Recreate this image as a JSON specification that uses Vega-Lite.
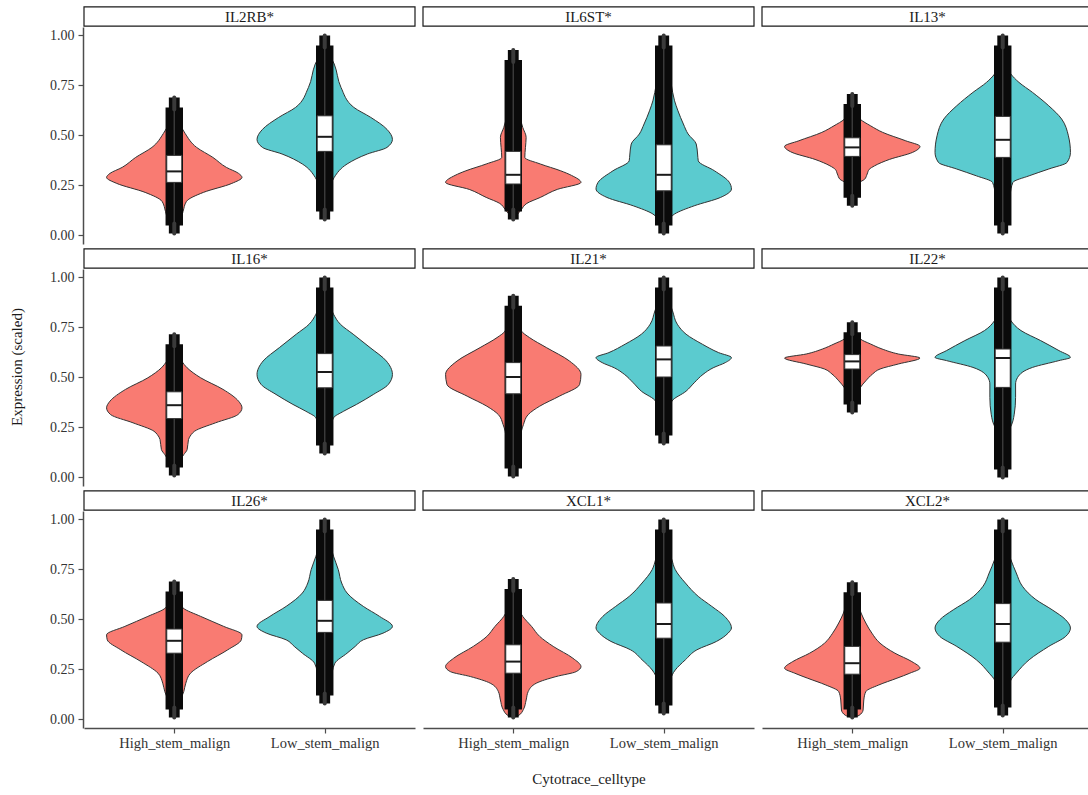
{
"$schema":"https://vega.github.io/schema/vega-lite/v6.json",
"background":"white",
"padding":{"left":9,"top":6,"right":0,"bottom":4},
"data":{"values":[
{"k":"s","g":"IL2RB*"},{"k":"s","g":"IL6ST*"},{"k":"s","g":"IL13*"},{"k":"s","g":"IL16*"},{"k":"s","g":"IL21*"},{"k":"s","g":"IL22*"},{"k":"s","g":"IL26*"},{"k":"s","g":"XCL1*"},{"k":"s","g":"XCL2*"},
{"k":"b","g":"IL2RB*","c":"High_stem_malign","lo":0.01,"q1":0.265,"md":0.32,"q3":0.40,"hi":0.69},
{"k":"b","g":"IL2RB*","c":"Low_stem_malign","lo":0.08,"q1":0.42,"md":0.493,"q3":0.598,"hi":1.0},
{"k":"b","g":"IL6ST*","c":"High_stem_malign","lo":0.08,"q1":0.257,"md":0.303,"q3":0.42,"hi":0.927},
{"k":"b","g":"IL6ST*","c":"Low_stem_malign","lo":0.01,"q1":0.223,"md":0.303,"q3":0.453,"hi":1.0},
{"k":"b","g":"IL13*","c":"High_stem_malign","lo":0.148,"q1":0.395,"md":0.44,"q3":0.488,"hi":0.707},
{"k":"b","g":"IL13*","c":"Low_stem_malign","lo":0.01,"q1":0.39,"md":0.478,"q3":0.595,"hi":1.0},
{"k":"b","g":"IL16*","c":"High_stem_malign","lo":0.01,"q1":0.294,"md":0.361,"q3":0.428,"hi":0.716},
{"k":"b","g":"IL16*","c":"Low_stem_malign","lo":0.12,"q1":0.448,"md":0.527,"q3":0.619,"hi":1.0},
{"k":"b","g":"IL21*","c":"High_stem_malign","lo":0.005,"q1":0.418,"md":0.502,"q3":0.574,"hi":0.908},
{"k":"b","g":"IL21*","c":"Low_stem_malign","lo":0.17,"q1":0.502,"md":0.59,"q3":0.657,"hi":1.0},
{"k":"b","g":"IL22*","c":"High_stem_malign","lo":0.324,"q1":0.542,"md":0.58,"q3":0.614,"hi":0.776},
{"k":"b","g":"IL22*","c":"Low_stem_malign","lo":0.0,"q1":0.45,"md":0.597,"q3":0.642,"hi":1.0},
{"k":"b","g":"IL26*","c":"High_stem_malign","lo":0.01,"q1":0.331,"md":0.393,"q3":0.452,"hi":0.69},
{"k":"b","g":"IL26*","c":"Low_stem_malign","lo":0.08,"q1":0.435,"md":0.493,"q3":0.595,"hi":1.0},
{"k":"b","g":"XCL1*","c":"High_stem_malign","lo":0.01,"q1":0.231,"md":0.289,"q3":0.373,"hi":0.702},
{"k":"b","g":"XCL1*","c":"Low_stem_malign","lo":0.03,"q1":0.406,"md":0.477,"q3":0.582,"hi":1.0},
{"k":"b","g":"XCL2*","c":"High_stem_malign","lo":0.01,"q1":0.226,"md":0.281,"q3":0.365,"hi":0.686},
{"k":"b","g":"XCL2*","c":"Low_stem_malign","lo":0.02,"q1":0.386,"md":0.477,"q3":0.579,"hi":1.0},
{"k":"v","g":"IL2RB*","c":"High_stem_malign","y":0.01,"w":0},{"k":"v","g":"IL2RB*","c":"High_stem_malign","y":0.06,"w":0.08},{"k":"v","g":"IL2RB*","c":"High_stem_malign","y":0.12,"w":0.13},{"k":"v","g":"IL2RB*","c":"High_stem_malign","y":0.17,"w":0.18},{"k":"v","g":"IL2RB*","c":"High_stem_malign","y":0.215,"w":0.43},{"k":"v","g":"IL2RB*","c":"High_stem_malign","y":0.26,"w":0.85},{"k":"v","g":"IL2RB*","c":"High_stem_malign","y":0.29,"w":1.0},{"k":"v","g":"IL2RB*","c":"High_stem_malign","y":0.31,"w":0.95},{"k":"v","g":"IL2RB*","c":"High_stem_malign","y":0.34,"w":0.77},{"k":"v","g":"IL2RB*","c":"High_stem_malign","y":0.39,"w":0.57},{"k":"v","g":"IL2RB*","c":"High_stem_malign","y":0.44,"w":0.33},{"k":"v","g":"IL2RB*","c":"High_stem_malign","y":0.51,"w":0.16},{"k":"v","g":"IL2RB*","c":"High_stem_malign","y":0.56,"w":0.08},{"k":"v","g":"IL2RB*","c":"High_stem_malign","y":0.62,"w":0.04},{"k":"v","g":"IL2RB*","c":"High_stem_malign","y":0.69,"w":0},
{"k":"v","g":"IL2RB*","c":"Low_stem_malign","y":0.08,"w":0},{"k":"v","g":"IL2RB*","c":"Low_stem_malign","y":0.15,"w":0.04},{"k":"v","g":"IL2RB*","c":"Low_stem_malign","y":0.22,"w":0.07},{"k":"v","g":"IL2RB*","c":"Low_stem_malign","y":0.29,"w":0.14},{"k":"v","g":"IL2RB*","c":"Low_stem_malign","y":0.357,"w":0.33},{"k":"v","g":"IL2RB*","c":"Low_stem_malign","y":0.407,"w":0.63},{"k":"v","g":"IL2RB*","c":"Low_stem_malign","y":0.44,"w":0.92},{"k":"v","g":"IL2RB*","c":"Low_stem_malign","y":0.48,"w":1.0},{"k":"v","g":"IL2RB*","c":"Low_stem_malign","y":0.53,"w":0.92},{"k":"v","g":"IL2RB*","c":"Low_stem_malign","y":0.59,"w":0.68},{"k":"v","g":"IL2RB*","c":"Low_stem_malign","y":0.64,"w":0.43},{"k":"v","g":"IL2RB*","c":"Low_stem_malign","y":0.74,"w":0.24},{"k":"v","g":"IL2RB*","c":"Low_stem_malign","y":0.857,"w":0.14},{"k":"v","g":"IL2RB*","c":"Low_stem_malign","y":0.9,"w":0.08},{"k":"v","g":"IL2RB*","c":"Low_stem_malign","y":0.95,"w":0.04},{"k":"v","g":"IL2RB*","c":"Low_stem_malign","y":1.0,"w":0},
{"k":"v","g":"IL6ST*","c":"High_stem_malign","y":0.08,"w":0},{"k":"v","g":"IL6ST*","c":"High_stem_malign","y":0.1,"w":0.05},{"k":"v","g":"IL6ST*","c":"High_stem_malign","y":0.13,"w":0.12},{"k":"v","g":"IL6ST*","c":"High_stem_malign","y":0.16,"w":0.2},{"k":"v","g":"IL6ST*","c":"High_stem_malign","y":0.19,"w":0.4},{"k":"v","g":"IL6ST*","c":"High_stem_malign","y":0.23,"w":0.65},{"k":"v","g":"IL6ST*","c":"High_stem_malign","y":0.265,"w":1.0},{"k":"v","g":"IL6ST*","c":"High_stem_malign","y":0.3,"w":0.86},{"k":"v","g":"IL6ST*","c":"High_stem_malign","y":0.323,"w":0.7},{"k":"v","g":"IL6ST*","c":"High_stem_malign","y":0.357,"w":0.4},{"k":"v","g":"IL6ST*","c":"High_stem_malign","y":0.39,"w":0.17},{"k":"v","g":"IL6ST*","c":"High_stem_malign","y":0.44,"w":0.18},{"k":"v","g":"IL6ST*","c":"High_stem_malign","y":0.49,"w":0.19},{"k":"v","g":"IL6ST*","c":"High_stem_malign","y":0.54,"w":0.14},{"k":"v","g":"IL6ST*","c":"High_stem_malign","y":0.59,"w":0.1},{"k":"v","g":"IL6ST*","c":"High_stem_malign","y":0.7,"w":0.06},{"k":"v","g":"IL6ST*","c":"High_stem_malign","y":0.8,"w":0.04},{"k":"v","g":"IL6ST*","c":"High_stem_malign","y":0.93,"w":0},
{"k":"v","g":"IL6ST*","c":"Low_stem_malign","y":0.01,"w":0},{"k":"v","g":"IL6ST*","c":"Low_stem_malign","y":0.023,"w":0.02},{"k":"v","g":"IL6ST*","c":"Low_stem_malign","y":0.073,"w":0.07},{"k":"v","g":"IL6ST*","c":"Low_stem_malign","y":0.107,"w":0.16},{"k":"v","g":"IL6ST*","c":"Low_stem_malign","y":0.148,"w":0.45},{"k":"v","g":"IL6ST*","c":"Low_stem_malign","y":0.19,"w":0.84},{"k":"v","g":"IL6ST*","c":"Low_stem_malign","y":0.232,"w":1.0},{"k":"v","g":"IL6ST*","c":"Low_stem_malign","y":0.265,"w":0.97},{"k":"v","g":"IL6ST*","c":"Low_stem_malign","y":0.323,"w":0.75},{"k":"v","g":"IL6ST*","c":"Low_stem_malign","y":0.373,"w":0.51},{"k":"v","g":"IL6ST*","c":"Low_stem_malign","y":0.407,"w":0.5},{"k":"v","g":"IL6ST*","c":"Low_stem_malign","y":0.457,"w":0.48},{"k":"v","g":"IL6ST*","c":"Low_stem_malign","y":0.507,"w":0.36},{"k":"v","g":"IL6ST*","c":"Low_stem_malign","y":0.557,"w":0.29},{"k":"v","g":"IL6ST*","c":"Low_stem_malign","y":0.623,"w":0.21},{"k":"v","g":"IL6ST*","c":"Low_stem_malign","y":0.673,"w":0.16},{"k":"v","g":"IL6ST*","c":"Low_stem_malign","y":0.757,"w":0.11},{"k":"v","g":"IL6ST*","c":"Low_stem_malign","y":0.85,"w":0.06},{"k":"v","g":"IL6ST*","c":"Low_stem_malign","y":0.95,"w":0.03},{"k":"v","g":"IL6ST*","c":"Low_stem_malign","y":1.0,"w":0},
{"k":"v","g":"IL13*","c":"High_stem_malign","y":0.15,"w":0},{"k":"v","g":"IL13*","c":"High_stem_malign","y":0.2,"w":0.05},{"k":"v","g":"IL13*","c":"High_stem_malign","y":0.265,"w":0.11},{"k":"v","g":"IL13*","c":"High_stem_malign","y":0.28,"w":0.18},{"k":"v","g":"IL13*","c":"High_stem_malign","y":0.307,"w":0.22},{"k":"v","g":"IL13*","c":"High_stem_malign","y":0.33,"w":0.25},{"k":"v","g":"IL13*","c":"High_stem_malign","y":0.348,"w":0.33},{"k":"v","g":"IL13*","c":"High_stem_malign","y":0.38,"w":0.55},{"k":"v","g":"IL13*","c":"High_stem_malign","y":0.415,"w":0.89},{"k":"v","g":"IL13*","c":"High_stem_malign","y":0.445,"w":1.0},{"k":"v","g":"IL13*","c":"High_stem_malign","y":0.473,"w":0.79},{"k":"v","g":"IL13*","c":"High_stem_malign","y":0.515,"w":0.45},{"k":"v","g":"IL13*","c":"High_stem_malign","y":0.548,"w":0.27},{"k":"v","g":"IL13*","c":"High_stem_malign","y":0.58,"w":0.12},{"k":"v","g":"IL13*","c":"High_stem_malign","y":0.615,"w":0.05},{"k":"v","g":"IL13*","c":"High_stem_malign","y":0.707,"w":0},
{"k":"v","g":"IL13*","c":"Low_stem_malign","y":0.01,"w":0},{"k":"v","g":"IL13*","c":"Low_stem_malign","y":0.05,"w":0.04},{"k":"v","g":"IL13*","c":"Low_stem_malign","y":0.12,"w":0.1},{"k":"v","g":"IL13*","c":"Low_stem_malign","y":0.2,"w":0.11},{"k":"v","g":"IL13*","c":"Low_stem_malign","y":0.265,"w":0.15},{"k":"v","g":"IL13*","c":"Low_stem_malign","y":0.298,"w":0.39},{"k":"v","g":"IL13*","c":"Low_stem_malign","y":0.332,"w":0.68},{"k":"v","g":"IL13*","c":"Low_stem_malign","y":0.365,"w":0.95},{"k":"v","g":"IL13*","c":"Low_stem_malign","y":0.415,"w":1.0},{"k":"v","g":"IL13*","c":"Low_stem_malign","y":0.498,"w":0.97},{"k":"v","g":"IL13*","c":"Low_stem_malign","y":0.582,"w":0.87},{"k":"v","g":"IL13*","c":"Low_stem_malign","y":0.648,"w":0.68},{"k":"v","g":"IL13*","c":"Low_stem_malign","y":0.715,"w":0.44},{"k":"v","g":"IL13*","c":"Low_stem_malign","y":0.765,"w":0.24},{"k":"v","g":"IL13*","c":"Low_stem_malign","y":0.807,"w":0.12},{"k":"v","g":"IL13*","c":"Low_stem_malign","y":0.865,"w":0.05},{"k":"v","g":"IL13*","c":"Low_stem_malign","y":1.0,"w":0},
{"k":"v","g":"IL16*","c":"High_stem_malign","y":0.01,"w":0},{"k":"v","g":"IL16*","c":"High_stem_malign","y":0.07,"w":0.06},{"k":"v","g":"IL16*","c":"High_stem_malign","y":0.114,"w":0.14},{"k":"v","g":"IL16*","c":"High_stem_malign","y":0.139,"w":0.19},{"k":"v","g":"IL16*","c":"High_stem_malign","y":0.189,"w":0.21},{"k":"v","g":"IL16*","c":"High_stem_malign","y":0.214,"w":0.25},{"k":"v","g":"IL16*","c":"High_stem_malign","y":0.231,"w":0.3},{"k":"v","g":"IL16*","c":"High_stem_malign","y":0.273,"w":0.61},{"k":"v","g":"IL16*","c":"High_stem_malign","y":0.314,"w":0.94},{"k":"v","g":"IL16*","c":"High_stem_malign","y":0.348,"w":1.0},{"k":"v","g":"IL16*","c":"High_stem_malign","y":0.381,"w":0.95},{"k":"v","g":"IL16*","c":"High_stem_malign","y":0.44,"w":0.72},{"k":"v","g":"IL16*","c":"High_stem_malign","y":0.498,"w":0.39},{"k":"v","g":"IL16*","c":"High_stem_malign","y":0.548,"w":0.19},{"k":"v","g":"IL16*","c":"High_stem_malign","y":0.582,"w":0.11},{"k":"v","g":"IL16*","c":"High_stem_malign","y":0.632,"w":0.05},{"k":"v","g":"IL16*","c":"High_stem_malign","y":0.716,"w":0},
{"k":"v","g":"IL16*","c":"Low_stem_malign","y":0.12,"w":0},{"k":"v","g":"IL16*","c":"Low_stem_malign","y":0.214,"w":0.06},{"k":"v","g":"IL16*","c":"Low_stem_malign","y":0.298,"w":0.13},{"k":"v","g":"IL16*","c":"Low_stem_malign","y":0.331,"w":0.28},{"k":"v","g":"IL16*","c":"Low_stem_malign","y":0.365,"w":0.47},{"k":"v","g":"IL16*","c":"Low_stem_malign","y":0.415,"w":0.72},{"k":"v","g":"IL16*","c":"Low_stem_malign","y":0.465,"w":0.94},{"k":"v","g":"IL16*","c":"Low_stem_malign","y":0.515,"w":1.0},{"k":"v","g":"IL16*","c":"Low_stem_malign","y":0.582,"w":0.91},{"k":"v","g":"IL16*","c":"Low_stem_malign","y":0.649,"w":0.67},{"k":"v","g":"IL16*","c":"Low_stem_malign","y":0.716,"w":0.42},{"k":"v","g":"IL16*","c":"Low_stem_malign","y":0.766,"w":0.23},{"k":"v","g":"IL16*","c":"Low_stem_malign","y":0.816,"w":0.13},{"k":"v","g":"IL16*","c":"Low_stem_malign","y":0.883,"w":0.06},{"k":"v","g":"IL16*","c":"Low_stem_malign","y":1.0,"w":0},
{"k":"v","g":"IL21*","c":"High_stem_malign","y":0.005,"w":0},{"k":"v","g":"IL21*","c":"High_stem_malign","y":0.1,"w":0.06},{"k":"v","g":"IL21*","c":"High_stem_malign","y":0.18,"w":0.1},{"k":"v","g":"IL21*","c":"High_stem_malign","y":0.231,"w":0.12},{"k":"v","g":"IL21*","c":"High_stem_malign","y":0.264,"w":0.15},{"k":"v","g":"IL21*","c":"High_stem_malign","y":0.314,"w":0.22},{"k":"v","g":"IL21*","c":"High_stem_malign","y":0.356,"w":0.39},{"k":"v","g":"IL21*","c":"High_stem_malign","y":0.406,"w":0.68},{"k":"v","g":"IL21*","c":"High_stem_malign","y":0.465,"w":0.98},{"k":"v","g":"IL21*","c":"High_stem_malign","y":0.515,"w":1.0},{"k":"v","g":"IL21*","c":"High_stem_malign","y":0.582,"w":0.83},{"k":"v","g":"IL21*","c":"High_stem_malign","y":0.649,"w":0.49},{"k":"v","g":"IL21*","c":"High_stem_malign","y":0.699,"w":0.24},{"k":"v","g":"IL21*","c":"High_stem_malign","y":0.732,"w":0.12},{"k":"v","g":"IL21*","c":"High_stem_malign","y":0.8,"w":0.06},{"k":"v","g":"IL21*","c":"High_stem_malign","y":0.908,"w":0},
{"k":"v","g":"IL21*","c":"Low_stem_malign","y":0.17,"w":0},{"k":"v","g":"IL21*","c":"Low_stem_malign","y":0.3,"w":0.06},{"k":"v","g":"IL21*","c":"Low_stem_malign","y":0.381,"w":0.12},{"k":"v","g":"IL21*","c":"Low_stem_malign","y":0.431,"w":0.33},{"k":"v","g":"IL21*","c":"Low_stem_malign","y":0.473,"w":0.45},{"k":"v","g":"IL21*","c":"Low_stem_malign","y":0.515,"w":0.58},{"k":"v","g":"IL21*","c":"Low_stem_malign","y":0.548,"w":0.73},{"k":"v","g":"IL21*","c":"Low_stem_malign","y":0.574,"w":0.91},{"k":"v","g":"IL21*","c":"Low_stem_malign","y":0.599,"w":1.0},{"k":"v","g":"IL21*","c":"Low_stem_malign","y":0.624,"w":0.81},{"k":"v","g":"IL21*","c":"Low_stem_malign","y":0.666,"w":0.57},{"k":"v","g":"IL21*","c":"Low_stem_malign","y":0.716,"w":0.33},{"k":"v","g":"IL21*","c":"Low_stem_malign","y":0.766,"w":0.2},{"k":"v","g":"IL21*","c":"Low_stem_malign","y":0.833,"w":0.13},{"k":"v","g":"IL21*","c":"Low_stem_malign","y":0.9,"w":0.06},{"k":"v","g":"IL21*","c":"Low_stem_malign","y":1.0,"w":0},
{"k":"v","g":"IL22*","c":"High_stem_malign","y":0.324,"w":0},{"k":"v","g":"IL22*","c":"High_stem_malign","y":0.4,"w":0.06},{"k":"v","g":"IL22*","c":"High_stem_malign","y":0.45,"w":0.12},{"k":"v","g":"IL22*","c":"High_stem_malign","y":0.483,"w":0.2},{"k":"v","g":"IL22*","c":"High_stem_malign","y":0.517,"w":0.3},{"k":"v","g":"IL22*","c":"High_stem_malign","y":0.542,"w":0.41},{"k":"v","g":"IL22*","c":"High_stem_malign","y":0.567,"w":0.68},{"k":"v","g":"IL22*","c":"High_stem_malign","y":0.597,"w":1.0},{"k":"v","g":"IL22*","c":"High_stem_malign","y":0.617,"w":0.68},{"k":"v","g":"IL22*","c":"High_stem_malign","y":0.642,"w":0.44},{"k":"v","g":"IL22*","c":"High_stem_malign","y":0.667,"w":0.27},{"k":"v","g":"IL22*","c":"High_stem_malign","y":0.692,"w":0.12},{"k":"v","g":"IL22*","c":"High_stem_malign","y":0.734,"w":0.05},{"k":"v","g":"IL22*","c":"High_stem_malign","y":0.776,"w":0},
{"k":"v","g":"IL22*","c":"Low_stem_malign","y":0.0,"w":0},{"k":"v","g":"IL22*","c":"Low_stem_malign","y":0.1,"w":0.02},{"k":"v","g":"IL22*","c":"Low_stem_malign","y":0.216,"w":0.04},{"k":"v","g":"IL22*","c":"Low_stem_malign","y":0.249,"w":0.11},{"k":"v","g":"IL22*","c":"Low_stem_malign","y":0.316,"w":0.17},{"k":"v","g":"IL22*","c":"Low_stem_malign","y":0.4,"w":0.19},{"k":"v","g":"IL22*","c":"Low_stem_malign","y":0.467,"w":0.19},{"k":"v","g":"IL22*","c":"Low_stem_malign","y":0.5,"w":0.22},{"k":"v","g":"IL22*","c":"Low_stem_malign","y":0.55,"w":0.44},{"k":"v","g":"IL22*","c":"Low_stem_malign","y":0.584,"w":0.83},{"k":"v","g":"IL22*","c":"Low_stem_malign","y":0.6,"w":1.0},{"k":"v","g":"IL22*","c":"Low_stem_malign","y":0.634,"w":0.83},{"k":"v","g":"IL22*","c":"Low_stem_malign","y":0.684,"w":0.56},{"k":"v","g":"IL22*","c":"Low_stem_malign","y":0.734,"w":0.27},{"k":"v","g":"IL22*","c":"Low_stem_malign","y":0.784,"w":0.12},{"k":"v","g":"IL22*","c":"Low_stem_malign","y":0.851,"w":0.05},{"k":"v","g":"IL22*","c":"Low_stem_malign","y":1.0,"w":0},
{"k":"v","g":"IL26*","c":"High_stem_malign","y":0.01,"w":0},{"k":"v","g":"IL26*","c":"High_stem_malign","y":0.08,"w":0.07},{"k":"v","g":"IL26*","c":"High_stem_malign","y":0.139,"w":0.14},{"k":"v","g":"IL26*","c":"High_stem_malign","y":0.181,"w":0.17},{"k":"v","g":"IL26*","c":"High_stem_malign","y":0.231,"w":0.24},{"k":"v","g":"IL26*","c":"High_stem_malign","y":0.289,"w":0.49},{"k":"v","g":"IL26*","c":"High_stem_malign","y":0.348,"w":0.79},{"k":"v","g":"IL26*","c":"High_stem_malign","y":0.398,"w":0.99},{"k":"v","g":"IL26*","c":"High_stem_malign","y":0.423,"w":1.0},{"k":"v","g":"IL26*","c":"High_stem_malign","y":0.465,"w":0.73},{"k":"v","g":"IL26*","c":"High_stem_malign","y":0.515,"w":0.39},{"k":"v","g":"IL26*","c":"High_stem_malign","y":0.557,"w":0.13},{"k":"v","g":"IL26*","c":"High_stem_malign","y":0.599,"w":0.06},{"k":"v","g":"IL26*","c":"High_stem_malign","y":0.69,"w":0},
{"k":"v","g":"IL26*","c":"Low_stem_malign","y":0.08,"w":0},{"k":"v","g":"IL26*","c":"Low_stem_malign","y":0.15,"w":0.05},{"k":"v","g":"IL26*","c":"Low_stem_malign","y":0.2,"w":0.09},{"k":"v","g":"IL26*","c":"Low_stem_malign","y":0.281,"w":0.15},{"k":"v","g":"IL26*","c":"Low_stem_malign","y":0.331,"w":0.33},{"k":"v","g":"IL26*","c":"Low_stem_malign","y":0.365,"w":0.45},{"k":"v","g":"IL26*","c":"Low_stem_malign","y":0.398,"w":0.57},{"k":"v","g":"IL26*","c":"Low_stem_malign","y":0.431,"w":0.86},{"k":"v","g":"IL26*","c":"Low_stem_malign","y":0.465,"w":1.0},{"k":"v","g":"IL26*","c":"Low_stem_malign","y":0.515,"w":0.81},{"k":"v","g":"IL26*","c":"Low_stem_malign","y":0.565,"w":0.57},{"k":"v","g":"IL26*","c":"Low_stem_malign","y":0.632,"w":0.33},{"k":"v","g":"IL26*","c":"Low_stem_malign","y":0.682,"w":0.25},{"k":"v","g":"IL26*","c":"Low_stem_malign","y":0.749,"w":0.2},{"k":"v","g":"IL26*","c":"Low_stem_malign","y":0.816,"w":0.13},{"k":"v","g":"IL26*","c":"Low_stem_malign","y":0.9,"w":0.06},{"k":"v","g":"IL26*","c":"Low_stem_malign","y":1.0,"w":0},
{"k":"v","g":"XCL1*","c":"High_stem_malign","y":0.01,"w":0},{"k":"v","g":"XCL1*","c":"High_stem_malign","y":0.02,"w":0.08},{"k":"v","g":"XCL1*","c":"High_stem_malign","y":0.05,"w":0.15},{"k":"v","g":"XCL1*","c":"High_stem_malign","y":0.097,"w":0.19},{"k":"v","g":"XCL1*","c":"High_stem_malign","y":0.139,"w":0.22},{"k":"v","g":"XCL1*","c":"High_stem_malign","y":0.181,"w":0.34},{"k":"v","g":"XCL1*","c":"High_stem_malign","y":0.214,"w":0.63},{"k":"v","g":"XCL1*","c":"High_stem_malign","y":0.239,"w":0.93},{"k":"v","g":"XCL1*","c":"High_stem_malign","y":0.264,"w":1.0},{"k":"v","g":"XCL1*","c":"High_stem_malign","y":0.306,"w":0.88},{"k":"v","g":"XCL1*","c":"High_stem_malign","y":0.365,"w":0.59},{"k":"v","g":"XCL1*","c":"High_stem_malign","y":0.415,"w":0.39},{"k":"v","g":"XCL1*","c":"High_stem_malign","y":0.465,"w":0.27},{"k":"v","g":"XCL1*","c":"High_stem_malign","y":0.515,"w":0.14},{"k":"v","g":"XCL1*","c":"High_stem_malign","y":0.565,"w":0.07},{"k":"v","g":"XCL1*","c":"High_stem_malign","y":0.702,"w":0},
{"k":"v","g":"XCL1*","c":"Low_stem_malign","y":0.03,"w":0},{"k":"v","g":"XCL1*","c":"Low_stem_malign","y":0.15,"w":0.06},{"k":"v","g":"XCL1*","c":"Low_stem_malign","y":0.247,"w":0.17},{"k":"v","g":"XCL1*","c":"Low_stem_malign","y":0.298,"w":0.32},{"k":"v","g":"XCL1*","c":"Low_stem_malign","y":0.348,"w":0.49},{"k":"v","g":"XCL1*","c":"Low_stem_malign","y":0.39,"w":0.78},{"k":"v","g":"XCL1*","c":"Low_stem_malign","y":0.431,"w":0.95},{"k":"v","g":"XCL1*","c":"Low_stem_malign","y":0.457,"w":1.0},{"k":"v","g":"XCL1*","c":"Low_stem_malign","y":0.515,"w":0.9},{"k":"v","g":"XCL1*","c":"Low_stem_malign","y":0.565,"w":0.71},{"k":"v","g":"XCL1*","c":"Low_stem_malign","y":0.615,"w":0.51},{"k":"v","g":"XCL1*","c":"Low_stem_malign","y":0.682,"w":0.32},{"k":"v","g":"XCL1*","c":"Low_stem_malign","y":0.749,"w":0.17},{"k":"v","g":"XCL1*","c":"Low_stem_malign","y":0.799,"w":0.12},{"k":"v","g":"XCL1*","c":"Low_stem_malign","y":0.883,"w":0.05},{"k":"v","g":"XCL1*","c":"Low_stem_malign","y":1.0,"w":0},
{"k":"v","g":"XCL2*","c":"High_stem_malign","y":0.01,"w":0},{"k":"v","g":"XCL2*","c":"High_stem_malign","y":0.02,"w":0.1},{"k":"v","g":"XCL2*","c":"High_stem_malign","y":0.047,"w":0.16},{"k":"v","g":"XCL2*","c":"High_stem_malign","y":0.097,"w":0.17},{"k":"v","g":"XCL2*","c":"High_stem_malign","y":0.139,"w":0.2},{"k":"v","g":"XCL2*","c":"High_stem_malign","y":0.172,"w":0.39},{"k":"v","g":"XCL2*","c":"High_stem_malign","y":0.206,"w":0.66},{"k":"v","g":"XCL2*","c":"High_stem_malign","y":0.231,"w":0.85},{"k":"v","g":"XCL2*","c":"High_stem_malign","y":0.256,"w":1.0},{"k":"v","g":"XCL2*","c":"High_stem_malign","y":0.289,"w":0.88},{"k":"v","g":"XCL2*","c":"High_stem_malign","y":0.331,"w":0.63},{"k":"v","g":"XCL2*","c":"High_stem_malign","y":0.381,"w":0.41},{"k":"v","g":"XCL2*","c":"High_stem_malign","y":0.431,"w":0.29},{"k":"v","g":"XCL2*","c":"High_stem_malign","y":0.482,"w":0.2},{"k":"v","g":"XCL2*","c":"High_stem_malign","y":0.532,"w":0.13},{"k":"v","g":"XCL2*","c":"High_stem_malign","y":0.599,"w":0.07},{"k":"v","g":"XCL2*","c":"High_stem_malign","y":0.686,"w":0},
{"k":"v","g":"XCL2*","c":"Low_stem_malign","y":0.02,"w":0},{"k":"v","g":"XCL2*","c":"Low_stem_malign","y":0.1,"w":0.05},{"k":"v","g":"XCL2*","c":"Low_stem_malign","y":0.197,"w":0.12},{"k":"v","g":"XCL2*","c":"Low_stem_malign","y":0.231,"w":0.2},{"k":"v","g":"XCL2*","c":"Low_stem_malign","y":0.298,"w":0.39},{"k":"v","g":"XCL2*","c":"Low_stem_malign","y":0.365,"w":0.68},{"k":"v","g":"XCL2*","c":"Low_stem_malign","y":0.415,"w":0.93},{"k":"v","g":"XCL2*","c":"Low_stem_malign","y":0.457,"w":1.0},{"k":"v","g":"XCL2*","c":"Low_stem_malign","y":0.498,"w":0.93},{"k":"v","g":"XCL2*","c":"Low_stem_malign","y":0.548,"w":0.73},{"k":"v","g":"XCL2*","c":"Low_stem_malign","y":0.599,"w":0.49},{"k":"v","g":"XCL2*","c":"Low_stem_malign","y":0.666,"w":0.29},{"k":"v","g":"XCL2*","c":"Low_stem_malign","y":0.732,"w":0.2},{"k":"v","g":"XCL2*","c":"Low_stem_malign","y":0.799,"w":0.12},{"k":"v","g":"XCL2*","c":"Low_stem_malign","y":0.866,"w":0.06},{"k":"v","g":"XCL2*","c":"Low_stem_malign","y":1.0,"w":0}
]},
"transform":[
{"calculate":"indexof(['IL2RB*','IL6ST*','IL13*','IL16*','IL21*','IL22*','IL26*','XCL1*','XCL2*'], datum.g)","as":"i"},
{"calculate":"floor(datum.i/3)","as":"r"},
{"calculate":"datum.i%3","as":"cc"}
],
"facet":{
"row":{"field":"r","type":"ordinal","title":"Expression (scaled)","header":{"labels":false,"titleOrient":"left","titlePadding":14}},
"column":{"field":"cc","type":"ordinal","title":"Cytotrace_celltype","header":{"labels":false,"titleOrient":"bottom","titlePadding":12}}
},
"spacing":{"row":4,"column":6},
"spec":{
"width":331,"height":217,
"layer":[
{"transform":[{"filter":"datum.k==='v'"},{"calculate":"datum.c==='High_stem_malign'?1:2","as":"xc"},{"calculate":"datum.xc-0.45*datum.w","as":"xl"},{"calculate":"datum.xc+0.45*datum.w","as":"xr"}],
"mark":{"type":"area","orient":"horizontal","interpolate":"monotone","stroke":"#333333","strokeWidth":1,"fillOpacity":1},
"encoding":{
"y":{"field":"y","type":"quantitative","scale":{"domain":[-0.043,1.042],"nice":false,"zero":false},"axis":{"values":[0,0.25,0.5,0.75,1],"format":".2f","title":null}},
"x":{"field":"xl","type":"quantitative","scale":{"domain":[0.4,2.6],"nice":false,"zero":false},"axis":{"values":[1,2],"labelExpr":"datum.value==1?'High_stem_malign':'Low_stem_malign'","title":null}},
"x2":{"field":"xr"},
"fill":{"field":"c","type":"nominal","scale":{"domain":["High_stem_malign","Low_stem_malign"],"range":["#F97B72","#5BCBCF"]},"legend":null},
"detail":{"field":"c","type":"nominal"}}},
{"transform":[{"filter":"datum.k==='b'"},{"calculate":"datum.c==='High_stem_malign'?1:2","as":"xc"},{"calculate":"datum.xc-0.036","as":"xa"},{"calculate":"datum.xc+0.036","as":"xb"}],
"mark":{"type":"rect","fill":"#0a0a0a"},
"encoding":{"x":{"field":"xa","type":"quantitative"},"x2":{"field":"xb"},"y":{"field":"lo","type":"quantitative"},"y2":{"field":"hi"}}},
{"transform":[{"filter":"datum.k==='b'"},{"calculate":"datum.c==='High_stem_malign'?1:2","as":"xc"},{"calculate":"datum.xc-0.058","as":"xa"},{"calculate":"datum.xc+0.058","as":"xb"},{"calculate":"datum.lo+0.04","as":"lo2"},{"calculate":"datum.hi-0.05","as":"hi2"}],
"mark":{"type":"rect","fill":"#0a0a0a"},
"encoding":{"x":{"field":"xa","type":"quantitative"},"x2":{"field":"xb"},"y":{"field":"lo2","type":"quantitative"},"y2":{"field":"hi2"}}},
{"transform":[{"filter":"datum.k==='b'"},{"calculate":"datum.c==='High_stem_malign'?1:2","as":"xc"}],
"mark":{"type":"rule","stroke":"#3a3a3a","strokeWidth":1.5},
"encoding":{"x":{"field":"xc","type":"quantitative"},"y":{"field":"lo","type":"quantitative"},"y2":{"field":"hi"}}},
{"transform":[{"filter":"datum.k==='b'"},{"calculate":"datum.c==='High_stem_malign'?1:2","as":"xc"},{"calculate":"datum.hi-0.06","as":"hi2"}],
"mark":{"type":"rule","stroke":"#3a3a3a","strokeWidth":4,"strokeCap":"round"},
"encoding":{"x":{"field":"xc","type":"quantitative"},"y":{"field":"hi2","type":"quantitative"},"y2":{"field":"hi"}}},
{"transform":[{"filter":"datum.k==='b'"},{"calculate":"datum.c==='High_stem_malign'?1:2","as":"xc"},{"calculate":"datum.lo+0.05","as":"lo2"}],
"mark":{"type":"rule","stroke":"#3a3a3a","strokeWidth":4,"strokeCap":"round"},
"encoding":{"x":{"field":"xc","type":"quantitative"},"y":{"field":"lo","type":"quantitative"},"y2":{"field":"lo2"}}},
{"transform":[{"filter":"datum.k==='b'"},{"calculate":"datum.c==='High_stem_malign'?1:2","as":"xc"},{"calculate":"datum.xc-0.05","as":"xa"},{"calculate":"datum.xc+0.05","as":"xb"}],
"mark":{"type":"rect","fill":"white","stroke":"#333333","strokeWidth":1},
"encoding":{"x":{"field":"xa","type":"quantitative"},"x2":{"field":"xb"},"y":{"field":"q1","type":"quantitative"},"y2":{"field":"q3"}}},
{"transform":[{"filter":"datum.k==='b'"},{"calculate":"datum.c==='High_stem_malign'?1:2","as":"xc"},{"calculate":"datum.xc-0.05","as":"xa"},{"calculate":"datum.xc+0.05","as":"xb"}],
"mark":{"type":"rule","stroke":"#1a1a1a","strokeWidth":2},
"encoding":{"x":{"field":"xa","type":"quantitative"},"x2":{"field":"xb"},"y":{"field":"md","type":"quantitative"}}},
{"transform":[{"filter":"datum.k==='s'"}],
"mark":{"type":"rect","fill":"white","stroke":"#1a1a1a","strokeWidth":1.2,"clip":false},
"encoding":{"x":{"datum":0.4,"type":"quantitative"},"x2":{"datum":2.6},"y":{"datum":1.046,"type":"quantitative"},"y2":{"datum":1.143}}},
{"transform":[{"filter":"datum.k==='s'"}],
"mark":{"type":"text","font":"Liberation Serif","fontSize":15,"color":"#1a1a1a","baseline":"middle","align":"center","clip":false},
"encoding":{"text":{"field":"g","type":"nominal"},"x":{"datum":1.5,"type":"quantitative"},"y":{"datum":1.094,"type":"quantitative"}}}
]},
"config":{
"view":{"stroke":null},
"font":"Liberation Serif",
"axis":{"grid":false,"domainColor":"#4d4d4d","domainWidth":1.5,"tickColor":"#4d4d4d","tickWidth":1.2,"tickSize":5,"labelFont":"Liberation Serif","labelFontSize":14,"labelColor":"#333333","labelPadding":4},
"axisX":{"labelFontSize":14.5,"labelPadding":3},
"header":{"titleFont":"Liberation Serif","titleFontSize":15,"titleFontWeight":"normal","titleColor":"#1a1a1a","labelFont":"Liberation Serif"}
}
}
